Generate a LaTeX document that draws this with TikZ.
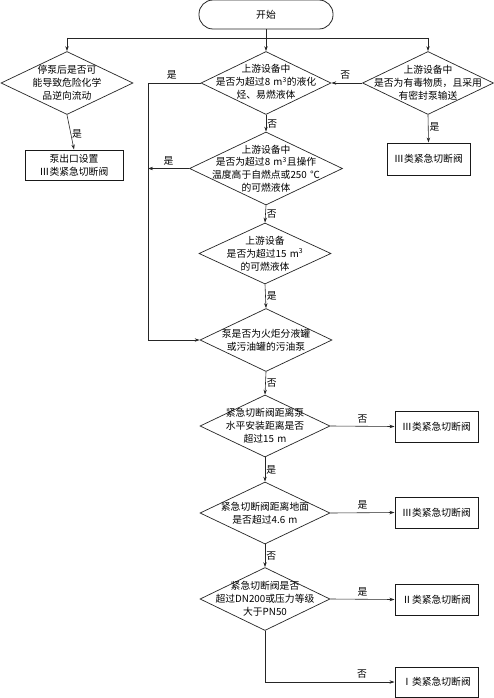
\documentclass[tikz,border=0pt]{standalone}
\usepackage{fontspec}
\setmainfont{Noto Sans CJK SC}
\usetikzlibrary{shapes.geometric,arrows.meta}
\begin{document}
\begin{tikzpicture}[x=1pt,y=-1pt,
  font=\fontsize{9.8}{12.8}\selectfont,
  line/.style={draw=black!85, line width=0.6pt},
  arr/.style={line, -{Stealth[length=5pt,width=3.4pt]}},
  dia/.style={diamond, draw=black!85, line width=0.7pt, inner sep=0pt},
  boxx/.style={rectangle, draw=black!90, line width=1pt, minimum width=83pt, minimum height=31pt, inner sep=0pt},
  txt/.style={align=center, inner sep=0pt},
  lab/.style={inner sep=1pt}
]
\fill[white] (0,0) rectangle (494,698);
\useasboundingbox (0,0) rectangle (494,698);

% start
\node[draw=black!85, line width=0.8pt, rounded corners=14pt, minimum width=134pt, minimum height=29pt] (start) at (266,14.5) {开始};

% diamonds
\node[dia, minimum width=132pt, minimum height=63pt] (dL) at (67,83) {};
\node[txt] at (dL) {停泵后是否可\\能导致危险化学\\品逆向流动};
\node[dia, minimum width=130pt, minimum height=63pt] (d1) at (266,83) {};
\node[txt] at ([yshift=1pt]d1.center) {上游设备中\\是否为超过8\,\,m\textsuperscript{3}的液化\\烃、易燃液体};
\node[dia, minimum width=131pt, minimum height=63pt] (dR) at (428,83) {};
\node[txt] at (dR) {上游设备中\\是否为有毒物质，且采用\\有密封泵输送};
\node[dia, minimum width=153pt, minimum height=73pt] (d2) at (266,168.5) {};
\node[txt] at (d2) {上游设备中\\是否为超过8\,\,m\textsuperscript{3}且操作\\温度高于自燃点或250\,\,℃\\的可燃液体};
\node[dia, minimum width=132pt, minimum height=61pt] (d3) at (265,253.5) {};
\node[txt] at (d3) {上游设备\\是否为超过15\,\,m\textsuperscript{3}\\的可燃液体};
\node[dia, minimum width=132pt, minimum height=63pt] (d4) at (266,340) {};
\node[txt] at (d4) {泵是否为火炬分液罐\\或污油罐的污油泵};
\node[dia, minimum width=130pt, minimum height=62pt] (d5) at (265,426) {};
\node[txt] at (d5) {紧急切断阀距离泵\\水平安装距离是否\\超过15\,\,m};
\node[dia, minimum width=130pt, minimum height=62pt] (d6) at (265,513) {};
\node[txt] at (d6) {紧急切断阀距离地面\\是否超过4.6\,\,m};
\node[dia, minimum width=130pt, minimum height=63pt] (d7) at (265,599) {};
\node[txt] at (d7) {紧急切断阀是否\\超过DN200或压力等级\\大于PN50};

% boxes
\node[boxx, minimum width=98pt, minimum height=30pt, align=center] (bL) at (74,165) {泵出口设置\\Ⅲ类紧急切断阀};
\node[boxx, minimum height=32pt] (bR) at (428.5,159) {Ⅲ类紧急切断阀};
\node[boxx] (b5) at (436.5,426.5) {Ⅲ类紧急切断阀};
\node[boxx] (b6) at (436.5,512.5) {Ⅲ类紧急切断阀};
\node[boxx] (b7) at (436.5,599.5) {Ⅱ类紧急切断阀};
\node[boxx, minimum height=30pt] (b8) at (436.5,682) {Ⅰ类紧急切断阀};

% junction coordinates
\coordinate (jL) at (67,38);
\coordinate (jR) at (428,38);
\coordinate (v1) at (148,83);
\coordinate (v2) at (148,340);
\coordinate (v3) at (148,168.5);
\coordinate (c7) at (265,682);

% connectors
\draw[arr] (start) -- (d1.north);
\draw[line] (jL) -- (jR);
\draw[arr] (jL) -- (dL.north);
\draw[arr] (jR) -- (dR.north);
\draw[arr] (dL.south) -- node[lab, right, pos=0.55] {是} (bL.north);
\draw[arr] (dR.south) -- node[lab, right, pos=0.45] {是} (bR.north);
\draw[arr] (dR.west) -- node[lab, above, pos=0.55, yshift=2pt] {否} (d1.east);
\draw[line] (d1.west) -- node[lab, above, pos=0.55, yshift=2pt] {是} (v1) -- (v2);
\draw[arr] (v2) -- (d4.west);
\draw[arr] (d2.west) -- node[lab, above, pos=0.5, yshift=2pt] {是} (v3);
\draw[arr] (d1.south) -- node[lab, right, pos=0.55] {否} (d2.north);
\draw[arr] (d2.south) -- node[lab, right, pos=0.5] {否} (d3.north);
\draw[arr] (d3.south) -- node[lab, right, pos=0.5] {是} (d4.north);
\draw[arr] (d4.south) -- node[lab, right, pos=0.5] {否} (d5.north);
\draw[arr] (d5.east) -- node[lab, above, pos=0.5, yshift=2pt] {否} (b5.west);
\draw[arr] (d5.south) -- node[lab, right, pos=0.5] {是} (d6.north);
\draw[arr] (d6.east) -- node[lab, above, pos=0.5, yshift=2pt] {是} (b6.west);
\draw[arr] (d6.south) -- node[lab, right, pos=0.5] {否} (d7.north);
\draw[arr] (d7.east) -- node[lab, above, pos=0.5, yshift=2pt] {是} (b7.west);
\draw[line] (d7.south) -- (c7);
\draw[arr] (c7) -- node[lab, above, pos=0.75, yshift=2pt] {否} (b8.west);
\end{tikzpicture}
\end{document}
